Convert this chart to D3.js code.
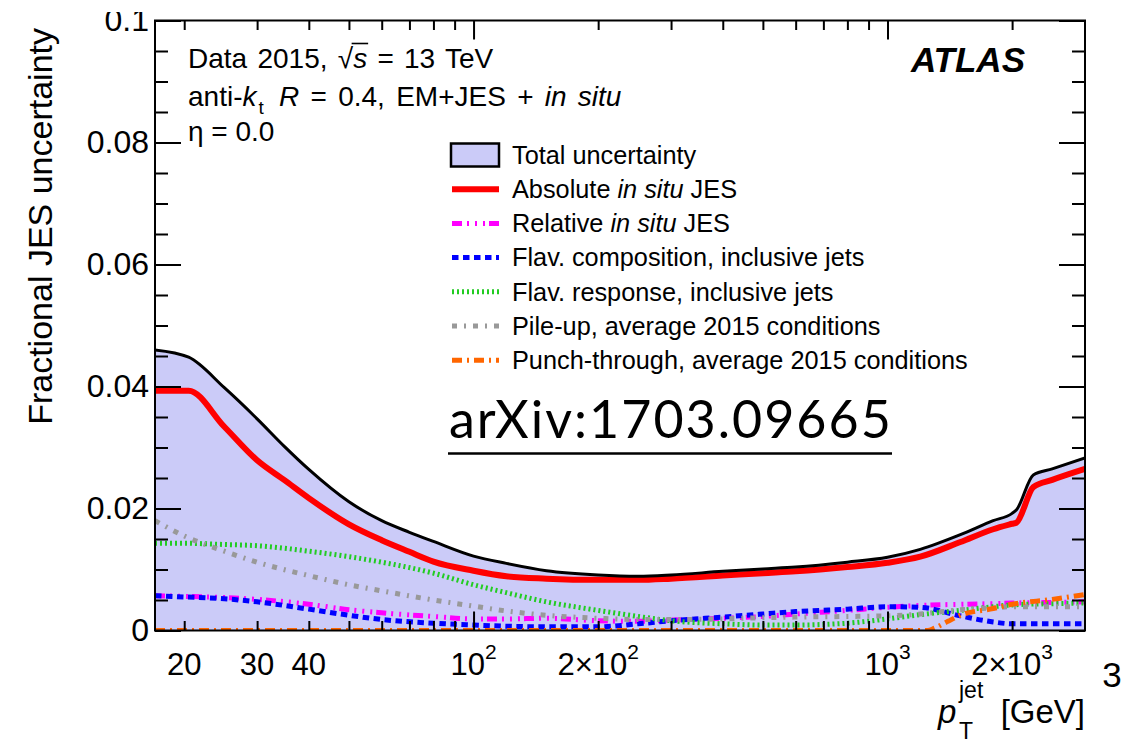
<!DOCTYPE html>
<html>
<head>
<meta charset="utf-8">
<script src="https://cdn.jsdelivr.net/npm/d3@7"></script>
<style>
  body { margin: 0; background: #fff; }
  svg { display: block; }
  text { white-space: pre; }
</style>
</head>
<body>
<svg id="chart" width="1140" height="744"></svg>
<script>
// ---- data -----------------------------------------------------------
// pT grid (GeV) for the total and absolute in situ uncertainties
const ptMain = [17, 20.5, 25, 30, 35, 40, 50, 60, 70, 80, 100, 120, 150, 200, 250, 300,
                400, 500, 600, 800, 1000, 1200, 1500, 1800, 2000, 2050, 2250, 2500, 3000];
const totalUnc = [0.0460, 0.0448, 0.0398, 0.0347, 0.0301, 0.0264, 0.0211, 0.0180, 0.0161, 0.0146,
                  0.0122, 0.0110, 0.0098, 0.0091, 0.0089, 0.0091, 0.0097, 0.0101, 0.0104, 0.0112,
                  0.0120, 0.0133, 0.0157, 0.0180, 0.0192, 0.0198, 0.0255, 0.0265, 0.0283];
const absInSitu = [0.0393, 0.0393, 0.0334, 0.0279, 0.0246, 0.0217, 0.0174, 0.0148, 0.0129, 0.0113,
                   0.0098, 0.0089, 0.0085, 0.0083, 0.0083, 0.0085, 0.0090, 0.0094, 0.0097, 0.0104,
                   0.0111, 0.0121, 0.0145, 0.0166, 0.0175, 0.0177, 0.0235, 0.0247, 0.0265];

// pT grid (GeV) for the smaller components
const ptComp = [17, 20, 25, 30, 40, 50, 60, 80, 100, 120, 150, 200, 250, 300, 400, 500, 600,
                800, 1000, 1200, 1500, 1800, 2000, 2500, 3000];
const relInSitu = [0.0057, 0.0056, 0.0054, 0.0051, 0.0043, 0.0034, 0.0029, 0.0023, 0.0019, 0.0019,
                   0.0020, 0.0016, 0.0015, 0.0017, 0.0020, 0.0023, 0.0027, 0.0033, 0.0038, 0.0041,
                   0.0043, 0.0044, 0.0045, 0.0046, 0.0047];
const flavComp = [0.0057, 0.0055, 0.0052, 0.0047, 0.0035, 0.0025, 0.0018, 0.0012, 0.0009, 0.0007,
                  0.0006, 0.0006, 0.0011, 0.0016, 0.0022, 0.0027, 0.0031, 0.0035, 0.0039, 0.0038,
                  0.0024, 0.0014, 0.0011, 0.0011, 0.0011];
const flavResp = [0.0143, 0.0143, 0.0141, 0.0139, 0.0130, 0.0121, 0.0112, 0.0094, 0.0075, 0.0062,
                  0.0047, 0.0033, 0.0023, 0.0016, 0.0011, 0.0009, 0.0009, 0.0012, 0.0019, 0.0026,
                  0.0033, 0.0039, 0.0042, 0.0044, 0.0045];
const pileUp = [0.0180, 0.0155, 0.0130, 0.0112, 0.0090, 0.0075, 0.0065, 0.0050, 0.0040, 0.0032,
                0.0025, 0.0020, 0.0018, 0.0018, 0.0019, 0.0021, 0.0022, 0.0023, 0.0024, 0.0027,
                0.0034, 0.0037, 0.0039, 0.0039, 0.0039];

// punch-through only switches on at high pT
const ptPunch = [17, 1250, 1300, 1400, 1500, 1800, 2000, 2500, 3000];
const punchThrough = [0, 0, 0.0004, 0.0015, 0.0025, 0.0036, 0.0043, 0.0051, 0.0059];

// axis ticks and labels
const yMajorTicks = [0, 0.02, 0.04, 0.06, 0.08, 0.1];
const yTickLabels = ["0", "0.02", "0.04", "0.06", "0.08", "0.1"];
const xMinorTicks = [20, 30, 40, 50, 60, 70, 80, 90, 200, 300, 400, 500, 600, 700, 800, 900, 2000];
const xMajorTicks = [100, 1000];
const xLabelValues = [20, 30, 40, 100, 200, 1000, 2000];
const xLabelText = [["20", ""], ["30", ""], ["40", ""], ["10", "2"], ["2\u00d710", "2"], ["10", "3"], ["2\u00d710", "3"]];

const legendLabels = [
  [["Total uncertainty", false]],
  [["Absolute ", false], ["in situ", true], [" JES", false]],
  [["Relative ", false], ["in situ", true], [" JES", false]],
  [["Flav. composition, inclusive jets", false]],
  [["Flav. response, inclusive jets", false]],
  [["Pile-up, average 2015 conditions", false]],
  [["Punch-through, average 2015 conditions", false]]
];

// ---- layout ---------------------------------------------------------
const FONT = "'Liberation Sans', Arial, Helvetica, sans-serif";
const plot = { left: 155, right: 1085, top: 20.5, bottom: 630.5 };

const svg = d3.select("#chart");
const x = d3.scaleLog().domain([17, 3000]).range([plot.left, plot.right]);
const y = d3.scaleLinear().domain([0, 0.1]).range([plot.bottom, plot.top]);

const defs = svg.append("defs");
defs.append("clipPath").attr("id", "plotClip").append("rect")
  .attr("x", plot.left).attr("y", plot.top)
  .attr("width", plot.right - plot.left).attr("height", plot.bottom - plot.top);
// the page edge trims the top of the uppermost y label
defs.append("clipPath").attr("id", "topCut").append("rect")
  .attr("x", -400).attr("y", 12).attr("width", 1600).attr("height", 744);

const zip = (pt, v) => pt.map((p, i) => [p, v[i]]);
const curve = d3.curveMonotoneX;
const line = d3.line().x(d => x(d[0])).y(d => y(d[1])).curve(curve);
const area = d3.area().x(d => x(d[0])).y0(y(0)).y1(d => y(d[1])).curve(curve);

const styles = {
  total:  { fill: "#cbcbf8", color: "#000000", width: 3 },
  abs:    { color: "#ff0000", width: 6, dash: null },
  rel:    { color: "#ff00ff", width: 5, dash: "10 5 2 6 2 6 2 4" },
  comp:   { color: "#0000ff", width: 5, dash: "6.5 4.5" },
  resp:   { color: "#22cc22", width: 5, dash: "2 3" },
  pile:   { color: "#999999", width: 5, dash: "5 7 2 7" },
  punch:  { color: "#ff6600", width: 5, dash: "10 5 2 5" }
};

const series = [
  { key: "rel",   data: zip(ptComp, relInSitu) },
  { key: "comp",  data: zip(ptComp, flavComp) },
  { key: "resp",  data: zip(ptComp, flavResp) },
  { key: "pile",  data: zip(ptComp, pileUp) },
  { key: "punch", data: zip(ptPunch, punchThrough) },
  { key: "abs",   data: zip(ptMain, absInSitu) }
];

const g = svg.append("g").attr("clip-path", "url(#plotClip)");
const totalData = zip(ptMain, totalUnc);
g.append("path").attr("d", area(totalData)).attr("fill", styles.total.fill);

series.forEach(s => {
  const st = styles[s.key];
  g.append("path").attr("d", line(s.data))
    .attr("fill", "none").attr("stroke", st.color)
    .attr("stroke-width", st.width)
    .attr("stroke-dasharray", st.dash)
    .attr("stroke-linecap", "butt").attr("stroke-linejoin", "round");
});
g.append("path").attr("d", line(totalData))
  .attr("fill", "none").attr("stroke", styles.total.color)
  .attr("stroke-width", styles.total.width).attr("stroke-linejoin", "round");

// ---- frame and ticks -----------------------------------------------
const yMinorTicks = d3.range(0, 0.1001, 0.005).filter(v => !yMajorTicks.some(m => Math.abs(m - v) < 1e-9));
const tickStyle = sel => {
  sel.select(".domain").remove();
  sel.selectAll(".tick line").attr("stroke", "#000").attr("stroke-width", 2);
};
const axes = svg.append("g");
axes.append("g").attr("transform", `translate(${plot.left},0)`)
  .call(d3.axisLeft(y).tickValues(yMinorTicks).tickSize(-13).tickFormat("")).call(tickStyle);
axes.append("g").attr("transform", `translate(${plot.left},0)`)
  .call(d3.axisLeft(y).tickValues(yMajorTicks).tickSize(-26).tickFormat("")).call(tickStyle);
axes.append("g").attr("transform", `translate(${plot.right},0)`)
  .call(d3.axisRight(y).tickValues(yMinorTicks).tickSize(-13).tickFormat("")).call(tickStyle);
axes.append("g").attr("transform", `translate(${plot.right},0)`)
  .call(d3.axisRight(y).tickValues(yMajorTicks).tickSize(-26).tickFormat("")).call(tickStyle);
axes.append("g").attr("transform", `translate(0,${plot.bottom})`)
  .call(d3.axisBottom(x).tickValues(xMinorTicks).tickSize(-9.5).tickFormat("")).call(tickStyle);
axes.append("g").attr("transform", `translate(0,${plot.bottom})`)
  .call(d3.axisBottom(x).tickValues(xMajorTicks).tickSize(-19).tickFormat("")).call(tickStyle);
axes.append("g").attr("transform", `translate(0,${plot.top})`)
  .call(d3.axisTop(x).tickValues(xMinorTicks).tickSize(-9.5).tickFormat("")).call(tickStyle);
axes.append("g").attr("transform", `translate(0,${plot.top})`)
  .call(d3.axisTop(x).tickValues(xMajorTicks).tickSize(-19).tickFormat("")).call(tickStyle);

svg.append("rect")
  .attr("x", plot.left).attr("y", plot.top)
  .attr("width", plot.right - plot.left).attr("height", plot.bottom - plot.top)
  .attr("fill", "none").attr("stroke", "#000").attr("stroke-width", 2);

// y tick labels
const yLab = svg.append("g").attr("clip-path", "url(#topCut)")
  .attr("transform", `translate(${plot.left},0)`)
  .call(d3.axisLeft(y).tickValues(yMajorTicks).tickSize(0).tickPadding(6)
        .tickFormat((d, i) => yTickLabels[i]));
yLab.select(".domain").remove();
yLab.selectAll("text").attr("font-family", FONT).attr("font-size", 32).attr("fill", "#000");

// x tick labels with superscripts
const xl = svg.append("g").attr("font-family", FONT).attr("fill", "#000");
xLabelValues.forEach((v, i) => {
  const t = xl.append("text").attr("x", x(v)).attr("y", 675)
    .attr("text-anchor", "middle").attr("font-size", 31);
  t.append("tspan").text(xLabelText[i][0]);
  if (xLabelText[i][1]) {
    t.append("tspan").attr("font-size", 21).attr("dy", -16).text(xLabelText[i][1]);
  }
});
xl.append("text").attr("x", 1112).attr("y", 687).attr("text-anchor", "middle")
  .attr("font-size", 35).text("3");

// x axis title: p_T^jet [GeV]
const xt = svg.append("g").attr("font-family", FONT).attr("fill", "#000");
xt.append("text").attr("x", 938).attr("y", 723).attr("font-size", 33)
  .attr("font-style", "italic").text("p");
xt.append("text").attr("x", 959).attr("y", 698).attr("font-size", 23).text("jet");
xt.append("text").attr("x", 959).attr("y", 739).attr("font-size", 23).text("T");
xt.append("text").attr("x", 1085).attr("y", 723).attr("font-size", 33)
  .attr("text-anchor", "end").text("[GeV]");

// y axis title
svg.append("text")
  .attr("transform", "translate(52,28) rotate(-90)")
  .attr("text-anchor", "end").attr("font-family", FONT).attr("font-size", 34)
  .text("Fractional JES uncertainty");

// ---- annotations ----------------------------------------------------
const ann = svg.append("g").attr("font-family", FONT).attr("font-size", 28).attr("fill", "#000");
const l1 = ann.append("text").attr("x", 188).attr("y", 68).attr("word-spacing", 2.5);
l1.append("tspan").text("Data 2015, \u221a");
l1.append("tspan").attr("font-style", "italic").text("s");
l1.append("tspan").text(" = 13 TeV");
// overline of the square root
{
  const node = l1.node();
  const rootBox = node.getExtentOfChar(11);
  const sBox = node.getExtentOfChar(12);
  ann.append("line")
    .attr("x1", rootBox.x + rootBox.width - 1.5).attr("x2", sBox.x + sBox.width + 1)
    .attr("y1", 43.5).attr("y2", 43.5).attr("stroke", "#000").attr("stroke-width", 1.6);
}
const l2 = ann.append("text").attr("x", 188).attr("y", 106).attr("word-spacing", 3.5);
l2.append("tspan").text("anti-");
l2.append("tspan").attr("font-style", "italic").text("k");
l2.append("tspan").attr("font-size", 19).attr("dy", 8).attr("dx", 2).text("t");
l2.append("tspan").attr("dy", -8).attr("dx", 4).text(" ");
l2.append("tspan").attr("font-style", "italic").text("R");
l2.append("tspan").text(" = 0.4, EM+JES + ");
l2.append("tspan").attr("font-style", "italic").text("in situ");
ann.append("text").attr("x", 188).attr("y", 141).text("\u03b7 = 0.0");

svg.append("text").attr("x", 1025).attr("y", 72).attr("text-anchor", "end")
  .attr("font-family", FONT).attr("font-size", 35)
  .attr("font-weight", "bold").attr("font-style", "italic").text("ATLAS");

// ---- legend ---------------------------------------------------------
const legendKeys = ["total", "abs", "rel", "comp", "resp", "pile", "punch"];
const lg = svg.append("g").attr("font-family", FONT).attr("font-size", 25.3).attr("fill", "#000");
legendKeys.forEach((k, i) => {
  const cy = 155 + i * 34.2;
  const st = styles[k];
  if (k === "total") {
    lg.append("rect").attr("x", 451).attr("y", cy - 11.5).attr("width", 48).attr("height", 23)
      .attr("fill", st.fill).attr("stroke", "#000").attr("stroke-width", 2.5);
  } else {
    lg.append("line").attr("x1", 452).attr("x2", 499).attr("y1", cy).attr("y2", cy)
      .attr("stroke", st.color).attr("stroke-width", st.width)
      .attr("stroke-dasharray", st.dash);
  }
  const t = lg.append("text").attr("x", 512).attr("y", cy + 8.8);
  legendLabels[i].forEach(([txt, it]) => {
    t.append("tspan").attr("font-style", it ? "italic" : "normal").text(txt);
  });
});

// ---- reference tag --------------------------------------------------
svg.append("text").attr("x", 449).attr("y", 438)
  .attr("font-family", "Lato, 'Open Sans', sans-serif").attr("font-size", 52)
  .attr("letter-spacing", 2).attr("fill", "#000").text("arXiv:1703.09665");
svg.append("line").attr("x1", 448).attr("x2", 892).attr("y1", 453.5).attr("y2", 453.5)
  .attr("stroke", "#000").attr("stroke-width", 2.5);
</script>
</body>
</html>
